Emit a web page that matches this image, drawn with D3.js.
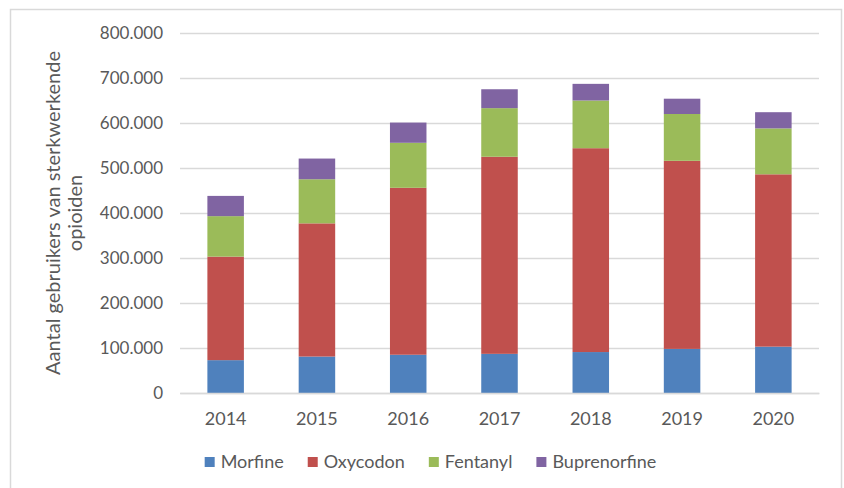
<!DOCTYPE html>
<html>
<head>
<meta charset="utf-8">
<script src="https://cdn.jsdelivr.net/npm/d3@7"></script>
<style>
  body { margin: 0; background: #fff; }
  text { font-family: Lato, "Open Sans", sans-serif; fill: #595959; }
</style>
</head>
<body>
<script>
// jaren en aantallen per middel
var years = ['2014', '2015', '2016', '2017', '2018', '2019', '2020'];
var morfine = [73000, 81000, 85000, 87000, 91000, 98000, 103000];
var oxycodon = [230000, 296000, 371000, 438000, 453000, 418000, 383000];
var fentanyl = [90000, 98000, 100000, 108000, 106000, 104000, 102000];
var buprenorfine = [45000, 46000, 45000, 42000, 37000, 34000, 36000];
var seriesNames = ['Morfine', 'Oxycodon', 'Fentanyl', 'Buprenorfine'];
var colors = ['#4f81bd', '#c0504d', '#9bbb59', '#8064a2'];
var yTicks = [0, 100000, 200000, 300000, 400000, 500000, 600000, 700000, 800000];

var W = 844, H = 488;
var plotL = 180, plotR = 819, plotT = 33, plotB = 393;

var svg = d3.select('body').append('svg')
    .attr('width', W)
    .attr('height', H);

// kader
svg.append('rect')
    .attr('x', 10.5).attr('y', 9.5)
    .attr('width', 831).attr('height', 490)
    .attr('fill', 'none')
    .attr('stroke', '#d9d9d9')
    .attr('stroke-width', 1.5);

var rows = years.map(function (y, i) {
    return { year: y, Morfine: morfine[i], Oxycodon: oxycodon[i], Fentanyl: fentanyl[i], Buprenorfine: buprenorfine[i] };
});

var x = d3.scaleBand().domain(years).range([plotL, plotR]).paddingInner(0.6).paddingOuter(0.3);
var y = d3.scaleLinear().domain([0, 800000]).range([plotB, plotT]);
var color = d3.scaleOrdinal().domain(seriesNames).range(colors);

var fmt = function (v) { return v === 0 ? '0' : d3.format(',')(v).replace(/,/g, '.'); };

// rasterlijnen + y-as
var yAxis = svg.append('g')
    .attr('transform', 'translate(' + plotL + ',0)')
    .call(d3.axisLeft(y).tickValues(yTicks).tickFormat(fmt).tickSize(-(plotR - plotL)).tickPadding(17));
yAxis.select('.domain').remove();
yAxis.selectAll('.tick line').attr('stroke', '#d9d9d9').attr('stroke-width', 1.5);
yAxis.selectAll('.tick text').style('font-size', '17px').attr('fill', '#595959').attr('dy', '0.35em');

var stack = d3.stack().keys(seriesNames);
var layers = stack(rows);

svg.append('g').selectAll('g')
    .data(layers)
    .enter().append('g')
    .attr('fill', function (d) { return color(d.key); })
    .selectAll('rect')
    .data(function (d) { return d; })
    .enter().append('rect')
    .attr('x', function (d) { return x(d.data.year); })
    .attr('width', x.bandwidth())
    .attr('y', function (d) { return y(d[1]); })
    .attr('height', function (d) { return y(d[0]) - y(d[1]); });

// x-as
var xAxis = svg.append('g')
    .attr('transform', 'translate(0,' + plotB + ')')
    .call(d3.axisBottom(x).tickSize(0).tickPadding(19));
xAxis.select('.domain').attr('stroke', '#d9d9d9').attr('stroke-width', 1.5);
xAxis.selectAll('.tick text').style('font-size', '18px').attr('fill', '#595959');

// y-as titel
var title = svg.append('text')
    .attr('transform', 'translate(53,213) rotate(-90)')
    .attr('text-anchor', 'middle')
    .style('font-size', '20px');
title.append('tspan').attr('x', 0).attr('dy', '0.35em').text('Aantal gebruikers van sterkwerkende');
title.append('tspan').attr('x', 0).attr('dy', '22px').text('opioiden');

// legenda
var legend = svg.append('g');
var lx = 0;
seriesNames.forEach(function (name, i) {
    var item = legend.append('g').attr('transform', 'translate(' + lx + ',0)');
    item.append('rect').attr('x', 0).attr('y', -5).attr('width', 10).attr('height', 10).attr('fill', colors[i]);
    var t = item.append('text').attr('x', 16).attr('dy', '0.35em').style('font-size', '18px').text(name);
    lx += 16 + t.node().getComputedTextLength() + 24;
});
var legendW = lx - 24;
legend.attr('transform', 'translate(' + (430.5 - legendW / 2) + ',462)');
</script>
</body>
</html>
